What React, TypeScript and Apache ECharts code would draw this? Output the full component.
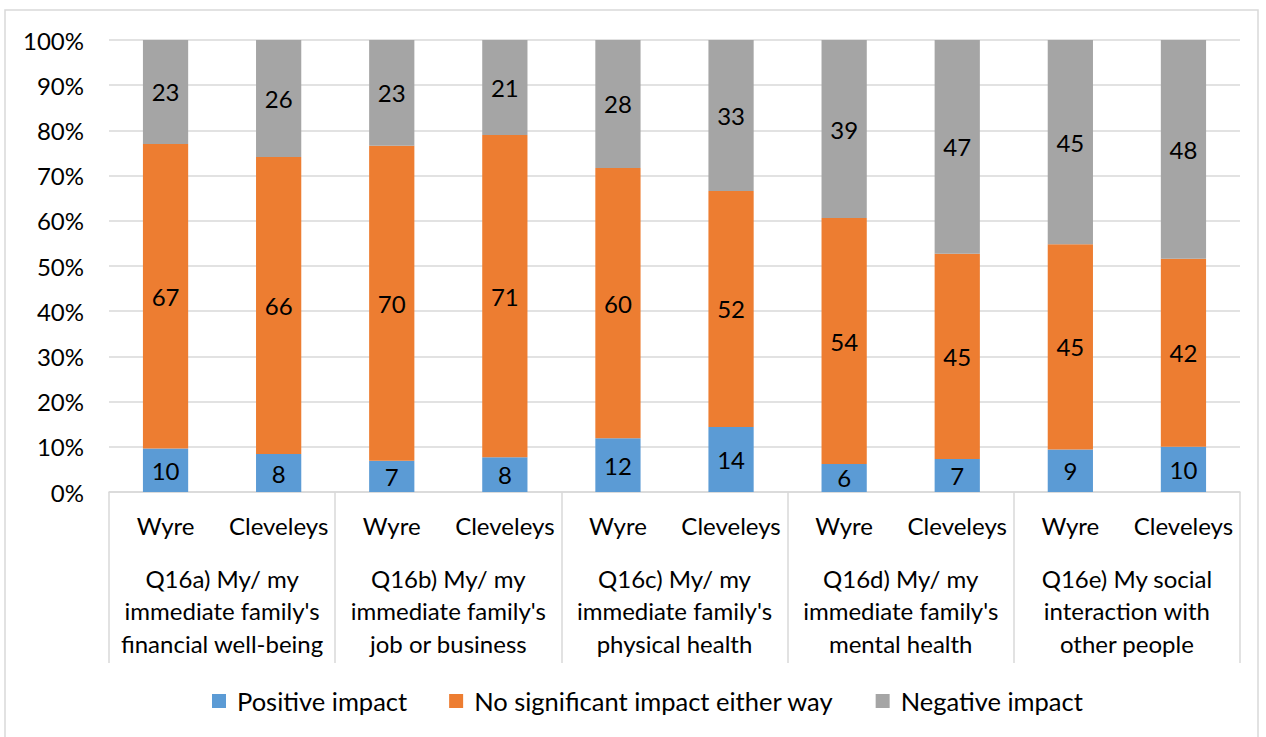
import React, { useEffect, useRef } from "react";
import * as echarts from "echarts";

const groups = [
  "Q16a) My/ my\nimmediate family's\nfinancial well-being",
  "Q16b) My/ my\nimmediate family's\njob or business",
  "Q16c) My/ my\nimmediate family's\nphysical health",
  "Q16d) My/ my\nimmediate family's\nmental health",
  "Q16e) My social\ninteraction with\nother people",
];
const areas = ["Wyre", "Cleveleys", "Wyre", "Cleveleys", "Wyre", "Cleveleys", "Wyre", "Cleveleys", "Wyre", "Cleveleys"];
const positive = [9.6, 8.4, 6.9, 7.7, 11.9, 14.4, 6.2, 7.3, 9.4, 10.0];
const noImpact = [67.4, 65.7, 69.7, 71.3, 59.8, 52.2, 54.4, 45.4, 45.4, 41.6];
const negative = [23.0, 25.9, 23.4, 21.0, 28.3, 33.4, 39.4, 47.3, 45.2, 48.4];
const seriesNames = ["Positive impact", "No significant impact either way", "Negative impact"];
const colors = ["#5B9BD5", "#ED7D31", "#A5A5A5"];

const FONT = "Lato";
const FS = 24;

export default function App() {
  const ref = useRef<HTMLDivElement>(null);
  useEffect(() => {
    if (!ref.current) return;
    const chart = echarts.init(ref.current, undefined, { renderer: "svg" });
    const mk = (name: string, data: number[], color: string) => ({
      name,
      type: "bar",
      stack: "total",
      data,
      barWidth: "40%",
      itemStyle: { color },
      label: {
        show: true,
        position: "inside",
        color: "#000",
        fontFamily: FONT,
        fontSize: FS,
        formatter: (p: any) => String(Math.round(p.value)),
      },
    });
    chart.setOption({
      animation: false,
      textStyle: { fontFamily: FONT },
      grid: { left: 109, right: 26, top: 40, bottom: 245, containLabel: false },
      legend: {
        bottom: 18,
        left: 207,
        icon: "rect",
        itemWidth: 14,
        itemHeight: 14,
        itemGap: 42,
        textStyle: { fontFamily: FONT, fontSize: 25.5, color: "#000", padding: [0, 0, 0, 6] },
        data: seriesNames,
      },
      xAxis: [
        {
          type: "category",
          data: areas,
          position: "bottom",
          axisLine: { show: true, lineStyle: { color: "#D9D9D9", width: 1.5 } },
          axisTick: { show: false },
          axisLabel: { interval: 0, margin: 21, fontFamily: FONT, fontSize: FS, color: "#000" },
        },
        {
          type: "category",
          data: groups,
          position: "bottom",
          axisLine: { show: false },
          axisTick: { show: true, interval: 0, length: 171, lineStyle: { color: "#D9D9D9", width: 1.5 } },
          axisLabel: { interval: 0, margin: 70, fontFamily: FONT, fontSize: FS, lineHeight: 32.5, color: "#000", align: "center" },
        },
      ],
      yAxis: {
        type: "value",
        min: 0,
        max: 100,
        interval: 10,
        axisLine: { show: false },
        axisTick: { show: false },
        splitLine: { lineStyle: { color: "#D9D9D9", width: 1.5 } },
        axisLabel: { formatter: "{value}%", fontFamily: FONT, fontSize: FS, color: "#000", margin: 25 },
      },
      graphic: [
        {
          type: "rect",
          shape: { x: 5, y: 10, width: 1253, height: 740 },
          style: { fill: "none", stroke: "#D9D9D9", lineWidth: 1.5 },
          silent: true,
        },
      ],
      series: [
        mk(seriesNames[0], positive, colors[0]),
        mk(seriesNames[1], noImpact, colors[1]),
        mk(seriesNames[2], negative, colors[2]),
      ],
    });
    return () => chart.dispose();
  }, []);
  return (
    <div
      ref={ref}
      style={{ position: "absolute", left: 0, top: 0, width: 1266, height: 737, background: "#fff" }}
    />
  );
}
